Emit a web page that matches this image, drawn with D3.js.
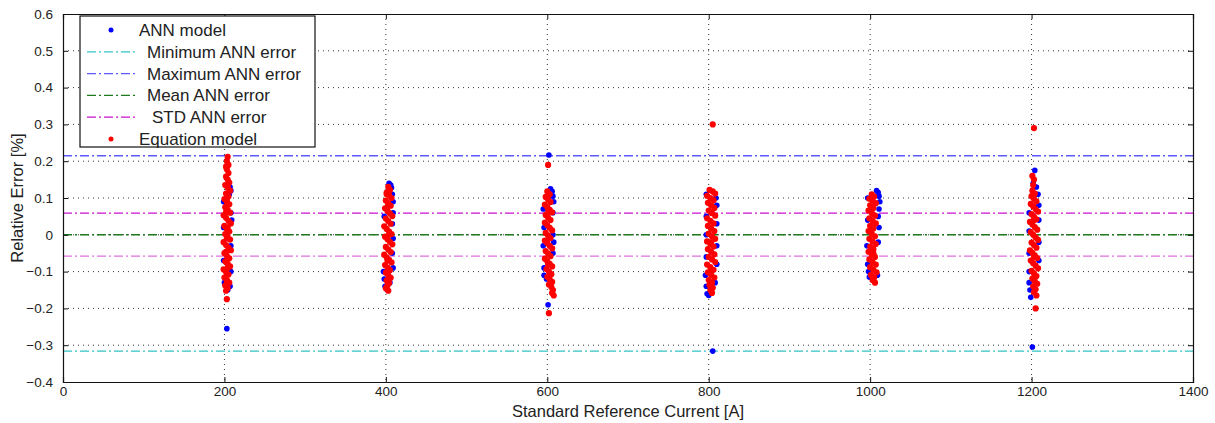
<!DOCTYPE html>
<html>
<head>
<meta charset="utf-8">
<script src="https://cdn.jsdelivr.net/npm/d3@7"></script>
<style>
  body { margin: 0; background: #fff; }
  svg { display: block; font-family: Arial, "Liberation Sans", sans-serif; }
</style>
</head>
<body>
<svg id="chart"></svg>
<script>
// axis ticks
let xTicks = [0, 200, 400, 600, 800, 1000, 1200, 1400]
let yTicks = [-0.4, -0.3, -0.2, -0.1, 0, 0.1, 0.2, 0.3, 0.4, 0.5, 0.6]

// reference lines (relative error %)
let minAnnError = -0.316
let maxAnnError = 0.215
let meanAnnError = 0.0
let stdUpper = 0.059
let stdLower = -0.058

// ANN model points [current A, error %]
let annModel = [
  [207,0.13],[208,0.12],[206,0.11],[199,0.09],[209,0.04],[208,0.06],[199,0.02],[208,-0.03],[199,-0.07],[208,-0.1],
  [200,-0.13],[206,-0.135],[207,-0.14],[204,-0.15],[203,-0.255],
  [404,0.14],[406,0.135],[407,0.128],[408,0.11],[409,0.09],[409,0.06],[408,0.03],[409,-0.01],[408,-0.05],[409,-0.09],
  [397,-0.1],[398,-0.12],[399,-0.14],[401,-0.148],[398,0.05],[405,-0.13],
  [602,0.217],[604,0.125],[606,0.118],[607,0.105],[608,0.09],[595,0.07],[607,0.06],[596,0.02],[607,0.0],[595,-0.03],
  [607,-0.05],[596,-0.09],[599,-0.12],[601,-0.19],[596,-0.11],[608,-0.02],
  [797,0.11],[809,0.1],[810,0.08],[797,0.05],[810,0.03],[797,0.0],[810,-0.03],[797,-0.06],[810,-0.08],[796,-0.11],
  [797,-0.14],[798,-0.16],[800,-0.165],[805,-0.316],[808,-0.13],
  [1008,0.12],[1010,0.115],[1011,0.105],[1012,0.09],[1011,0.07],[1010,0.05],[1011,0.02],[1010,-0.02],[997,0.1],[997,0.04],
  [996,-0.03],[997,-0.08],[998,-0.1],[999,-0.115],[1009,-0.11],
  [1204,0.175],[1202,0.14],[1206,0.13],[1208,0.11],[1209,0.08],[1197,0.06],[1209,0.04],[1197,0.01],[1209,-0.02],[1197,-0.05],
  [1209,-0.07],[1197,-0.1],[1197,-0.13],[1198,-0.15],[1199,-0.17],[1201,-0.305]
]

// Equation model points [current A, error %]
let equationModel = [
  [204,0.212],[203,0.2],[202,0.185],[205,0.19],[203,0.178],[205,0.168],[202,0.158],[204,0.15],[206,0.142],[201,0.135],
  [204,0.135],[204,0.128],[207,0.12],[202,0.112],[205,0.104],[200,0.097],[203,0.098],[203,0.09],[206,0.083],[201,0.075],
  [204,0.068],[207,0.06],[202,0.062],[199,0.053],[202,0.046],[205,0.038],[208,0.031],[200,0.024],[204,0.02],[203,0.016],
  [206,0.009],[201,0.002],[204,-0.006],[203,-0.01],[207,-0.013],[199,-0.02],[202,-0.028],[205,-0.035],[208,-0.042],[202,-0.046],
  [200,-0.05],[203,-0.057],[206,-0.064],[201,-0.072],[204,-0.079],[207,-0.086],[204,-0.09],[199,-0.094],[202,-0.101],[205,-0.108],
  [200,-0.116],[203,-0.123],[203,-0.128],[206,-0.13],[201,-0.138],[204,-0.145],[202,-0.152],[203,-0.175],
  [403,0.13],[405,0.122],[401,0.115],[401,0.11],[404,0.108],[407,0.1],[400,0.093],[403,0.086],[406,0.079],[402,0.075],
  [399,0.072],[402,0.065],[405,0.058],[408,0.051],[400,0.044],[403,0.037],[406,0.03],[398,0.023],[401,0.016],[404,0.009],
  [404,0.0],[407,0.002],[399,-0.005],[402,-0.012],[405,-0.019],[408,-0.026],[400,-0.033],[403,-0.04],[406,-0.047],[398,-0.054],
  [401,-0.061],[404,-0.068],[402,-0.07],[407,-0.075],[399,-0.082],[402,-0.089],[405,-0.096],[400,-0.103],[403,-0.11],[406,-0.117],
  [401,-0.124],[404,-0.131],[402,-0.138],[400,-0.145],[403,-0.152],
  [600,0.118],[603,0.11],[598,0.103],[601,0.096],[604,0.089],[597,0.082],[600,0.075],[603,0.068],[606,0.061],[601,0.06],
  [598,0.054],[601,0.047],[604,0.04],[597,0.033],[600,0.026],[603,0.019],[606,0.012],[598,0.005],[601,-0.002],[602,-0.01],
  [604,-0.009],[597,-0.016],[600,-0.023],[603,-0.03],[606,-0.037],[598,-0.044],[601,-0.051],[604,-0.058],[597,-0.065],[600,-0.072],
  [601,-0.08],[603,-0.079],[606,-0.086],[599,-0.093],[602,-0.1],[605,-0.107],[600,-0.114],[603,-0.121],[606,-0.128],[602,-0.135],
  [605,-0.142],[607,-0.15],[606,-0.158],[608,-0.165],[601,0.19],[602,-0.213],
  [801,0.122],[805,0.118],[808,0.112],[798,0.106],[802,0.1],[806,0.094],[799,0.087],[803,0.08],[807,0.073],[800,0.066],
  [803,0.06],[804,0.059],[808,0.052],[798,0.045],[802,0.038],[806,0.031],[799,0.024],[803,0.017],[807,0.01],[800,0.003],
  [804,-0.004],[808,-0.011],[798,-0.018],[803,-0.02],[802,-0.025],[806,-0.032],[799,-0.039],[803,-0.046],[807,-0.053],[800,-0.06],
  [804,-0.067],[808,-0.074],[798,-0.081],[802,-0.088],[806,-0.095],[803,-0.1],[799,-0.102],[803,-0.109],[807,-0.116],[800,-0.123],
  [804,-0.13],[801,-0.137],[805,-0.144],[802,-0.15],[804,-0.158],[805,0.3],
  [1002,0.11],[1005,0.104],[999,0.098],[1003,0.092],[1007,0.086],[1000,0.08],[1004,0.073],[998,0.066],[1002,0.059],[1006,0.052],
  [999,0.045],[1003,0.038],[1007,0.031],[1000,0.024],[1002,0.02],[1004,0.017],[998,0.01],[1002,0.003],[1006,-0.004],[999,-0.011],
  [1003,-0.018],[1007,-0.025],[1000,-0.032],[1004,-0.039],[998,-0.046],[1004,-0.05],[1002,-0.053],[1006,-0.06],[999,-0.067],[1003,-0.074],
  [1007,-0.081],[1000,-0.088],[1004,-0.095],[1008,-0.102],[1001,-0.109],[1005,-0.116],[1003,-0.123],[1006,-0.13],
  [1203,0.29],[1201,0.16],[1203,0.15],[1202,0.135],[1201,0.12],[1204,0.112],[1200,0.105],[1203,0.098],[1206,0.091],[1199,0.084],
  [1202,0.077],[1205,0.07],[1208,0.063],[1200,0.056],[1203,0.049],[1206,0.042],[1203,0.04],[1198,0.035],[1201,0.028],[1204,0.021],
  [1207,0.014],[1199,0.007],[1202,0.0],[1205,-0.007],[1208,-0.014],[1200,-0.021],[1203,-0.028],[1206,-0.035],[1198,-0.042],[1201,-0.049],
  [1204,-0.056],[1203,-0.06],[1207,-0.063],[1199,-0.07],[1202,-0.077],[1205,-0.084],[1208,-0.091],[1200,-0.098],[1203,-0.105],[1206,-0.112],
  [1201,-0.119],[1204,-0.126],[1207,-0.133],[1202,-0.14],[1205,-0.148],[1203,-0.156],[1206,-0.165],[1205,-0.2]
]

let legendKeys = ["ANN model", "Minimum ANN error", "Maximum ANN error", "Mean ANN error", "STD ANN error", "Equation model"]

let w = 1215
let h = 423
let m = { left: 63, right: 22, top: 14, bottom: 41 }
let svg = d3.select("#chart").attr("width", w).attr("height", h)

let xScale = d3.scaleLinear().domain([0, 1400]).range([m.left, w - m.right])
let yScale = d3.scaleLinear().domain([-0.4, 0.6]).range([h - m.bottom, m.top])

let dashDot = "9,3,2,3"
let textColor = "#222"

// grid
svg.append("g")
   .selectAll("line")
   .data(xTicks.slice(1, -1))
   .enter()
   .append("line")
   .attr("x1", (d) => xScale(d)).attr("x2", (d) => xScale(d))
   .attr("y1", yScale(0.6)).attr("y2", yScale(-0.4))
   .attr("stroke", "#333").attr("stroke-dasharray", "1,4")

svg.append("g")
   .selectAll("line")
   .data(yTicks.slice(1, -1))
   .enter()
   .append("line")
   .attr("x1", xScale(0)).attr("x2", xScale(1400))
   .attr("y1", (d) => yScale(d)).attr("y2", (d) => yScale(d))
   .attr("stroke", "#333").attr("stroke-dasharray", "1,4")

// reference lines
let refLines = [
  { v: maxAnnError, c: "#5a5aff" },
  { v: minAnnError, c: "#33c4c4" },
  { v: meanAnnError, c: "#1e7a1e" },
  { v: stdUpper, c: "#cc11cc" },
  { v: stdLower, c: "#dd70dd" }
]
svg.append("g")
   .selectAll("line")
   .data(refLines)
   .enter()
   .append("line")
   .attr("x1", xScale(0)).attr("x2", xScale(1400))
   .attr("y1", (d) => yScale(d.v)).attr("y2", (d) => yScale(d.v))
   .attr("stroke", (d) => d.c)
   .attr("stroke-width", 1.4)
   .attr("stroke-dasharray", dashDot)

// points
svg.append("g")
   .selectAll("circle")
   .data(annModel)
   .enter()
   .append("circle")
   .attr("cx", (d) => xScale(d[0]))
   .attr("cy", (d) => yScale(d[1]))
   .attr("r", 2.8)
   .attr("fill", "#0000ff")

svg.append("g")
   .selectAll("circle")
   .data(equationModel)
   .enter()
   .append("circle")
   .attr("cx", (d) => xScale(d[0]))
   .attr("cy", (d) => yScale(d[1]))
   .attr("r", 3.1)
   .attr("fill", "#ff0000")

// axes (MATLAB style, ticks pointing inward)
let bottomAxis = svg.append("g")
   .attr("transform", `translate(0, ${h - m.bottom})`)
   .call(d3.axisBottom(xScale).tickValues(xTicks).tickSize(-5).tickPadding(10).tickFormat(d3.format("d")))
let topAxis = svg.append("g")
   .attr("transform", `translate(0, ${m.top})`)
   .call(d3.axisTop(xScale).tickValues(xTicks).tickSize(-5).tickFormat(""))
let leftAxis = svg.append("g")
   .attr("transform", `translate(${m.left}, 0)`)
   .call(d3.axisLeft(yScale).tickValues(yTicks).tickSize(-5).tickPadding(10).tickFormat((d) => d === 0 ? "0" : d3.format(".1f")(d)))
let rightAxis = svg.append("g")
   .attr("transform", `translate(${w - m.right}, 0)`)
   .call(d3.axisRight(yScale).tickValues(yTicks).tickSize(-5).tickFormat(""))

;[bottomAxis, topAxis, leftAxis, rightAxis].forEach((a) => {
  a.select(".domain").attr("stroke", "#111").attr("stroke-width", 1.2)
  a.selectAll(".tick line").attr("stroke", "#111")
  a.selectAll("text").attr("fill", textColor).style("font-size", "13.5px").style("font-family", "Arial, 'Liberation Sans', sans-serif")
})
bottomAxis.selectAll("text").attr("y", 4).attr("dy", "0.71em")

// axis labels
svg.append("text")
   .attr("x", (xScale(0) + xScale(1400)) / 2)
   .attr("y", 417)
   .attr("text-anchor", "middle")
   .attr("fill", textColor)
   .style("font-size", "16.5px")
   .text("Standard Reference Current [A]")

svg.append("text")
   .attr("transform", "rotate(-90)")
   .attr("x", -(yScale(0.6) + yScale(-0.4)) / 2)
   .attr("y", 23)
   .attr("text-anchor", "middle")
   .attr("fill", textColor)
   .style("font-size", "16.5px")
   .text("Relative Error [%]")

// legend
let lg = svg.append("g").attr("transform", "translate(80, 16)")
lg.append("rect")
  .attr("width", 235).attr("height", 131)
  .attr("fill", "#fff").attr("stroke", "#111").attr("stroke-width", 1.2)

let legendStyle = [
  { type: "dot", c: "#0000ff", tx: 59 },
  { type: "line", c: "#33c4c4", tx: 67 },
  { type: "line", c: "#5a5aff", tx: 67 },
  { type: "line", c: "#1e7a1e", tx: 67 },
  { type: "line", c: "#cc11cc", tx: 72 },
  { type: "dot", c: "#ff0000", tx: 59 }
]

let rows = lg.selectAll("g.row")
  .data(legendKeys)
  .enter()
  .append("g")
  .attr("class", "row")
  .attr("transform", (d, i) => `translate(0, ${14 + i * 21.8})`)

rows.each(function (d, i) {
  let s = legendStyle[i]
  let r = d3.select(this)
  if (s.type === "dot") {
    r.append("circle").attr("cx", 31).attr("cy", 0).attr("r", 2.5).attr("fill", s.c)
  } else {
    r.append("line").attr("x1", 7).attr("x2", 55).attr("y1", 0).attr("y2", 0)
     .attr("stroke", s.c).attr("stroke-width", 1.3).attr("stroke-dasharray", dashDot)
  }
  r.append("text")
   .attr("x", s.tx).attr("y", 6)
   .attr("fill", textColor)
   .style("font-size", "17px")
   .text(d)
})
</script>
</body>
</html>
